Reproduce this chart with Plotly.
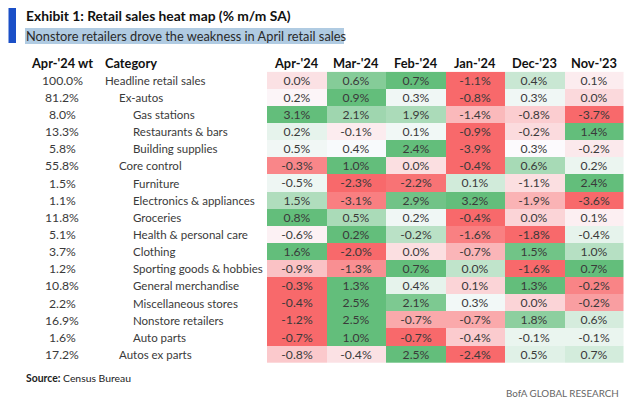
import plotly.graph_objects as go
import numpy as np

months = ["Apr-'24", "Mar-'24", "Feb-'24", "Jan-'24", "Dec-'23", "Nov-'23"]
weights = ["100.0%", "81.2%", "8.0%", "13.3%", "5.8%", "55.8%", "1.5%", "1.1%", "11.8%",
           "5.1%", "3.7%", "1.2%", "10.8%", "2.2%", "16.9%", "1.6%", "17.2%"]
categories = ["Headline retail sales", "Ex-autos", "Gas stations", "Restaurants & bars",
              "Building supplies", "Core control", "Furniture", "Electronics & appliances",
              "Groceries", "Health & personal care", "Clothing", "Sporting goods & hobbies",
              "General merchandise", "Miscellaneous stores", "Nonstore retailers",
              "Auto parts", "Autos ex parts"]
indent = [0, 1, 2, 2, 2, 1, 2, 2, 2, 2, 2, 2, 2, 2, 2, 2, 1]
values = [
    [0.0, 0.6, 0.7, -1.1, 0.4, 0.1],
    [0.2, 0.9, 0.3, -0.8, 0.3, 0.0],
    [3.1, 2.1, 1.9, -1.4, -0.8, -3.7],
    [0.2, -0.1, 0.1, -0.9, -0.2, 1.4],
    [0.5, 0.4, 2.4, -3.9, 0.3, -0.2],
    [-0.3, 1.0, 0.0, -0.4, 0.6, 0.2],
    [-0.5, -2.3, -2.2, 0.1, -1.1, 2.4],
    [1.5, -3.1, 2.9, 3.2, -1.9, -3.6],
    [0.8, 0.5, 0.2, -0.4, 0.0, 0.1],
    [-0.6, 0.2, -0.2, -1.6, -1.8, -0.4],
    [1.6, -2.0, 0.0, -0.7, 1.5, 1.0],
    [-0.9, -1.3, 0.7, 0.0, -1.6, 0.7],
    [-0.3, 1.3, 0.4, 0.1, 1.3, -0.2],
    [-0.4, 2.5, 2.1, 0.3, 0.0, -0.2],
    [-1.2, 2.5, -0.7, -0.7, 1.8, 0.6],
    [-0.7, 1.0, -0.7, -0.4, -0.1, -0.1],
    [-0.8, -0.4, 2.5, -2.4, 0.5, 0.7],
]

# page body has an 8px default margin: the figure starts at (8, 8) of the window
OFF = 8
W, H = 640 - OFF, 406 - OFF
FONT = "Lato"
TXT = "#3a3a3a"

# per-row 3-colour scale: min -> red, median -> white, max -> green
vals = np.array(values)
z = np.zeros_like(vals)
for i, row in enumerate(vals):
    lo, mid, hi = row.min(), np.median(row), row.max()
    for j, v in enumerate(row):
        if v <= mid:
            z[i, j] = 0.5 * (v - lo) / (mid - lo) if mid > lo else 0.5
        else:
            z[i, j] = 0.5 + 0.5 * (v - mid) / (hi - mid) if hi > mid else 0.5
text = [[f"{v:.1f}%" for v in row] for row in values]

rows = list(range(len(categories)))
fig = go.Figure(go.Heatmap(
    z=z, x=months, y=rows, zmin=0, zmax=1,
    colorscale=[[0, "#F8696B"], [0.5, "#FCFCFF"], [1, "#63BE7B"]],
    showscale=False, text=text, texttemplate="%{text}",
    textfont=dict(family=FONT, size=12.2, color=TXT),
    hoverinfo="skip",
))

def px(x):
    return (x - OFF) / W

def py(y):
    return 1 - (y - OFF) / H

top, bot = 71.7, 363.0
fig.update_layout(
    width=W, height=H, margin=dict(l=0, r=0, t=0, b=0),
    paper_bgcolor="white", plot_bgcolor="white",
    xaxis=dict(domain=[px(267), px(623.5)], visible=False, showgrid=False),
    yaxis=dict(domain=[py(bot), py(top)], range=[len(rows) - 0.5, -0.5],
               visible=False, showgrid=False),
    font=dict(family=FONT),
)

HDR = 12.8
ann = []
for m in months:
    ann.append(dict(x=m, y=py(63.5), xref="x", yref="paper", text=f"<b>{m}</b>",
                    showarrow=False, font=dict(size=HDR, color="#111"),
                    xanchor="center", yanchor="middle"))
ann.append(dict(x=px(62), y=py(63.5), xref="paper", yref="paper", text="<b>Apr-'24 wt</b>",
                showarrow=False, font=dict(size=HDR, color="#111"), xanchor="center", yanchor="middle"))
ann.append(dict(x=px(103), y=py(63.5), xref="paper", yref="paper", text="<b>Category</b>",
                showarrow=False, font=dict(size=HDR, color="#111"), xanchor="left", yanchor="middle"))
for i in rows:
    ann.append(dict(x=px(62), y=i, xref="paper", yref="y", text=weights[i], showarrow=False,
                    font=dict(size=12.2, color=TXT), xanchor="center", yanchor="middle"))
    ann.append(dict(x=px(103 + 14 * indent[i]), y=i, xref="paper", yref="y", text=categories[i],
                    showarrow=False, font=dict(size=11.5, color=TXT),
                    xanchor="left", yanchor="middle"))
ann.append(dict(x=px(24), y=py(16), xref="paper", yref="paper",
                text="<b>Exhibit 1: Retail sales heat map (% m/m SA)</b>", showarrow=False,
                font=dict(size=13.8, color="#111"), xanchor="left", yanchor="middle"))
ann.append(dict(x=px(24), y=py(36), xref="paper", yref="paper",
                text="Nonstore retailers drove the weakness in April retail sales", showarrow=False,
                font=dict(size=12.8, color="#2a2a2a"), xanchor="left", yanchor="middle"))
ann.append(dict(x=px(24), y=py(378), xref="paper", yref="paper",
                text="<b>Source:</b> Census Bureau", showarrow=False,
                font=dict(size=10.4, color="#222"), xanchor="left", yanchor="middle"))
ann.append(dict(x=px(621), y=py(393), xref="paper", yref="paper",
                text="BofA GLOBAL RESEARCH", showarrow=False,
                font=dict(size=9.8, color="#666"), xanchor="right", yanchor="middle"))

shapes = [
    dict(type="rect", xref="paper", yref="paper", x0=px(8.5), x1=px(16), y0=py(43), y1=py(4),
         fillcolor="#1a4fc7", line=dict(width=0), layer="above"),
    dict(type="rect", xref="paper", yref="paper", x0=px(25), x1=px(344), y0=py(44), y1=py(28),
         fillcolor="#b0cbe2", line=dict(width=0), layer="below"),
]
fig.update_layout(annotations=ann, shapes=shapes)
fig.write_html("out.html")
